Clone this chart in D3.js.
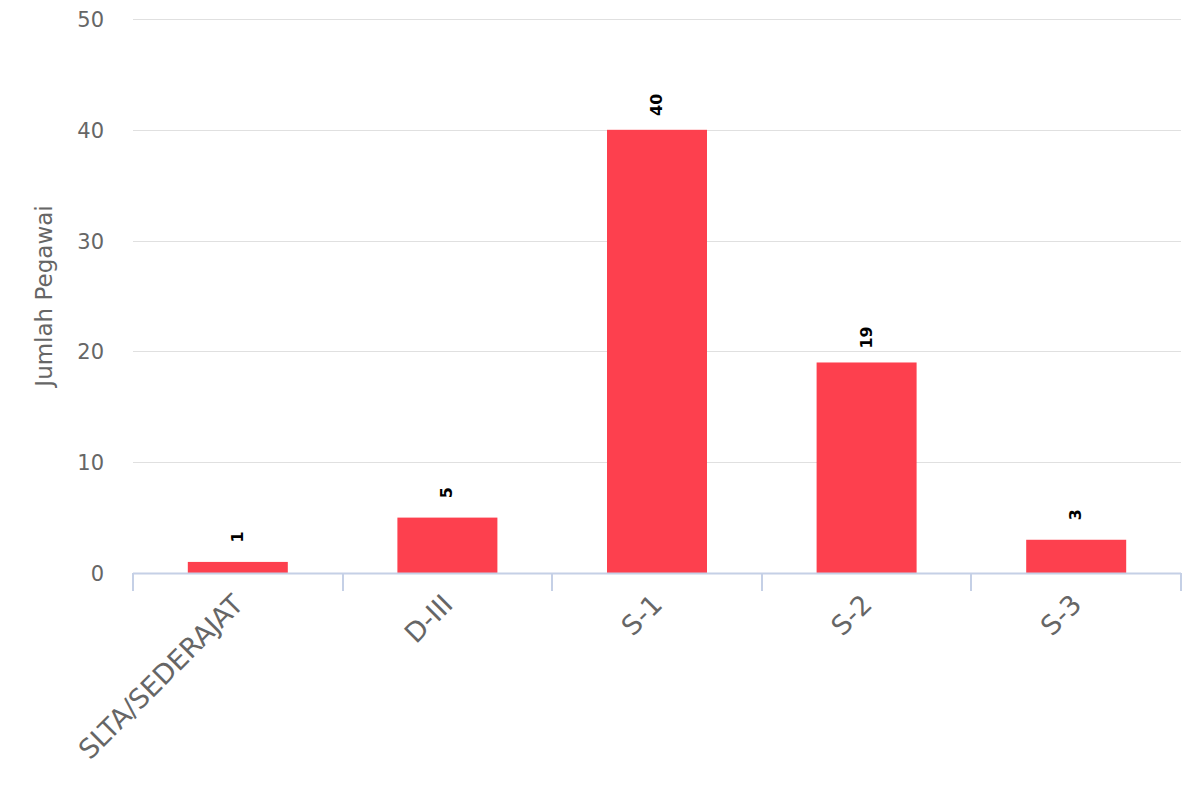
<!DOCTYPE html>
<html>
<head>
<meta charset="utf-8">
<script src="https://cdn.jsdelivr.net/npm/d3@7"></script>
<style>
  html, body { margin: 0; padding: 0; background: #fff; }
  svg { display: block; font-family: "DejaVu Sans", Verdana, sans-serif; }
</style>
</head>
<body>
<svg id="chart" width="1200" height="800"></svg>
<script>
const categories = ["SLTA/SEDERAJAT", "D-III", "S-1", "S-2", "S-3"];
const values = [1, 5, 40, 19, 3];
const yTicks = [0, 10, 20, 30, 40, 50];
const yTitle = "Jumlah Pegawai";

const svg = d3.select("#chart");
const plotLeft = 133, plotRight = 1181, plotTop = 19, plotBottom = 573;

const padIn = 1 - 100 / ((plotRight - plotLeft) / categories.length);
const x = d3.scaleBand().domain(categories).range([plotLeft, plotRight])
  .paddingInner(padIn).paddingOuter(padIn / 2);
const step = x.step();
const y = d3.scaleLinear().domain([0, 50]).range([plotBottom, plotTop]);

// gridlines
svg.append("g").selectAll("line").data(yTicks.filter(d => d > 0)).join("line")
  .attr("x1", plotLeft).attr("x2", plotRight)
  .attr("y1", d => Math.round(y(d)) + 0.5).attr("y2", d => Math.round(y(d)) + 0.5)
  .attr("stroke", "#e0e0e0").attr("stroke-width", 1);

// y labels
svg.append("g").selectAll("text").data(yTicks).join("text")
  .attr("x", 104).attr("y", d => y(d) + 8)
  .attr("text-anchor", "end")
  .attr("fill", "#666666").attr("font-size", "21px")
  .text(d => d);

// y title
svg.append("text")
  .attr("transform", `translate(52,${(plotTop + plotBottom) / 2}) rotate(-90)`)
  .attr("text-anchor", "middle")
  .attr("fill", "#666666").attr("font-size", "23px")
  .text(yTitle);

// bars
svg.append("g").selectAll("rect").data(values).join("rect")
  .attr("x", (d, i) => x(categories[i]))
  .attr("width", x.bandwidth())
  .attr("y", d => y(d))
  .attr("height", d => y(0) - y(d))
  .attr("fill", "#fd404e");

// x axis line and ticks
const tickPos = d3.range(categories.length + 1).map(i => plotLeft + i * step);
svg.append("line").attr("x1", plotLeft).attr("x2", plotRight)
  .attr("y1", plotBottom + 0.5).attr("y2", plotBottom + 0.5)
  .attr("stroke", "#c5d0e6").attr("stroke-width", 2);
svg.append("g").selectAll("line").data(tickPos).join("line")
  .attr("x1", d => Math.round(d)).attr("x2", d => Math.round(d))
  .attr("y1", plotBottom).attr("y2", plotBottom + 18)
  .attr("stroke", "#c5d0e6").attr("stroke-width", 2);

// category labels
svg.append("g").selectAll("text").data(categories).join("text")
  .attr("transform", d => `translate(${x(d) + x.bandwidth() / 2 + 7},606) rotate(-45)`)
  .attr("text-anchor", "end")
  .attr("fill", "#666666").attr("font-size", "27px")
  .text(d => d);

// data labels
svg.append("g").selectAll("text").data(values).join("text")
  .attr("transform", (d, i) => `translate(${x(categories[i]) + x.bandwidth() / 2 + 5},${y(d) - 25}) rotate(-90)`)
  .attr("text-anchor", "middle")
  .attr("fill", "#000000").attr("font-size", "16px").attr("font-weight", "bold")
  .text(d => d);
</script>
</body>
</html>
